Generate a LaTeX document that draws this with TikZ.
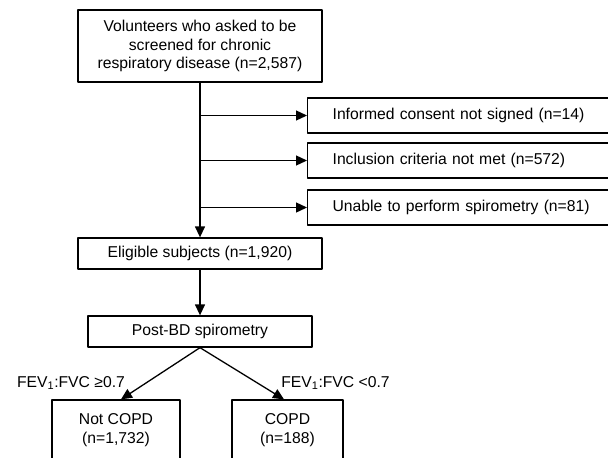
\documentclass[tikz,border=0pt]{standalone}
\usepackage{fontspec}
\setmainfont{Liberation Sans}
\usetikzlibrary{arrows.meta}
\begin{document}
\begin{tikzpicture}[x=1pt,y=-1pt,line join=round,>={Triangle[length=11pt,width=10pt]},
    box/.style={draw,line width=1.3pt,inner sep=0pt,align=center,font=\fontsize{15.7}{18.5}\selectfont},
    sidebox/.style={box,anchor=west,minimum width=330pt,minimum height=35pt,text width=280pt,inner xsep=25pt,align=left},
    lbl/.style={font=\fontsize{15.7}{18.5}\selectfont,inner sep=0pt},
    arr/.style={->,line width=1.3pt}]
 \useasboundingbox (0,0) rectangle (608,458);
 \clip (0,0) rectangle (608,458);
 \node[box,minimum width=244pt,minimum height=72pt] (volunteers) at (200,46) {Volunteers who asked to be\\screened for chronic\\respiratory disease (n=2,587)};
 \node[sidebox] (consent) at (307,115.5) {Informed consent not signed (n=14)};
 \node[sidebox] (inclusion) at (307,160.5) {Inclusion criteria not met (n=572)};
 \node[sidebox] (unable) at (307,207.5) {Unable to perform spirometry (n=81)};
 \node[box,minimum width=244pt,minimum height=31pt] (eligible) at (200,253.5) {Eligible subjects (n=1,920)};
 \node[box,minimum width=224pt,minimum height=31pt] (postbd) at (200,331.5) {Post-BD spirometry};
 \node[box,minimum width=128pt,minimum height=60pt] (notcopd) at (116,430) {Not COPD\\(n=1,732)};
 \node[box,minimum width=111pt,minimum height=60pt] (copd) at (287.5,430) {COPD\\(n=188)};
 \node[lbl] (ratiohigh) at (71,383) {FEV\textsubscript{1}:FVC ≥0.7};
 \node[lbl] (ratiolow) at (335.5,383) {FEV\textsubscript{1}:FVC <0.7};
 \draw[arr] (volunteers.south) -- (eligible.north);
 \foreach \n in {consent,inclusion,unable}
   \draw[arr] (volunteers.south |- \n.west) -- (\n.west);
 \draw[arr] (eligible.south) -- (postbd.north);
 \draw[arr] (postbd.south) -- ([xshift=5pt]notcopd.north);
 \draw[arr] (postbd.south) -- ([xshift=-3.5pt]copd.north);
\end{tikzpicture}
\end{document}
